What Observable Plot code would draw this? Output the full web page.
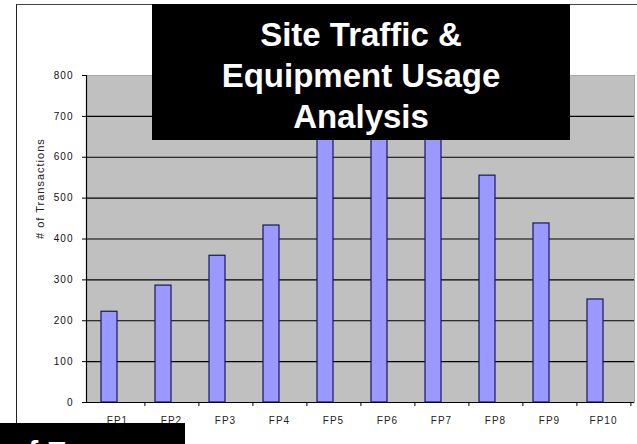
<!DOCTYPE html>
<html><head><meta charset="utf-8">
<script src="https://cdn.jsdelivr.net/npm/d3@7"></script>
<script src="https://cdn.jsdelivr.net/npm/@observablehq/plot@0.6"></script>
<style>
body{margin:0;background:#fff;}
#wrap{position:relative;width:637px;height:444px;overflow:hidden;font-family:Arial,"Liberation Sans",sans-serif;}
#wrap svg{position:absolute;left:0;top:0;}
#wrap svg text{letter-spacing:1px;}
#border{position:absolute;left:16px;top:4px;width:640px;height:460px;border-left:1px solid #222;border-top:1px solid #444;}
#title{position:absolute;left:152px;top:4px;width:418px;height:126px;padding-top:10px;background:#000;color:#fff;font:bold 33px Arial,"Liberation Sans",sans-serif;text-align:center;line-height:41px;}
#foot{position:absolute;left:0;top:423px;width:175px;height:30px;padding:14px 0 0 10px;background:#000;color:#fff;font:bold 30px Arial,"Liberation Sans",sans-serif;line-height:30px;white-space:nowrap;overflow:hidden;}
</style></head>
<body><div id="wrap"></div>
<script>
const categories = ["FP1","FP2","FP3","FP4","FP5","FP6","FP7","FP8","FP9","FP10"];
const transactions = [222, 286, 359, 433, 680, 720, 690, 555, 438, 252];
const yTicks = [0,100,200,300,400,500,600,700,800];
const gridTicks = [100,200,300,400,500,600,700];
const titleLines = ["Site Traffic &","Equipment Usage","Analysis"];
const yLabel = "# of Transactions";
const footText = "of E";

const data = categories.map((c,i)=>({site:c, value:transactions[i]}));

const chart = Plot.plot({
  width:637, height:444,
  marginLeft:86, marginRight:3, marginTop:75, marginBottom:42,
  style:{background:"transparent", fontFamily:"Arial, 'Liberation Sans', sans-serif", fontSize:"10px", color:"#111"},
  x:{domain:categories, padding:0, label:null},
  y:{domain:[0,800], label:null},
  marks:[
    Plot.frame({fill:"#c0c0c0", stroke:"#a9a9a9"}),
    Plot.ruleY(gridTicks,{stroke:"#000", strokeWidth:1.2}),
    Plot.barY(data,{x:"site", y:"value", fill:"#9999ff", stroke:"#161660", strokeWidth:1.2, insetLeft:11, insetRight:27}),
    Plot.ruleY([0],{stroke:"#000", strokeWidth:1.2}),
    Plot.frame({anchor:"left", stroke:"#000", strokeWidth:1.2}),
    Plot.axisY({ticks:yTicks, tickSize:4, tickPadding:9, label:null, stroke:"#000"}),
    Plot.axisX({tickSize:4, tickFormat:()=>"", dx:27.4, label:null, stroke:"#000"}),
    Plot.axisX({tickSize:0, tickPadding:14, label:null, fill:"#222"}),
    Plot.text([yLabel],{frameAnchor:"left", rotate:-90, dx:-46, fontSize:11, fill:"#222"})
  ]
});
const wrap = document.getElementById("wrap");
wrap.appendChild(chart);
const border = document.createElement("div"); border.id="border"; wrap.appendChild(border);
const title = document.createElement("div"); title.id="title";
title.innerHTML = titleLines.map(t=>t.replace(/&/g,"&amp;")).join("<br>");
wrap.appendChild(title);
const foot = document.createElement("div"); foot.id="foot"; foot.textContent = footText; wrap.appendChild(foot);
</script>
</body></html>
